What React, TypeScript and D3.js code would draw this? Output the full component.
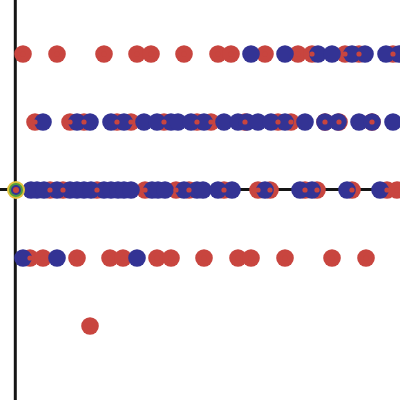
import React from "react";
import * as d3 from "d3";

const rows = ["r1", "r2", "r3", "r4", "r5"];

const redRow1 = [23, 57, 104, 137, 151, 184, 218, 231, 265, 298, 312, 345, 359, 393];
const blueRow1 = [251, 285, 318, 332, 352, 365, 386, 399];

const redRow2 = [35, 70, 84, 117, 131, 164, 197, 211, 245, 278, 291, 325, 339, 372];
const blueRow2 = [43, 77, 90, 111, 124, 144, 157, 171, 178, 191, 204, 224, 238, 247, 258, 271, 285, 305, 325, 338, 359, 372, 393];

const redRow3 = [50, 63, 97, 145, 176, 189, 224, 258, 270, 305, 317, 352, 387, 397];
const blueRow3 = [31, 37, 44, 57, 70, 77, 84, 91, 104, 111, 118, 124, 131, 152, 158, 165, 184, 197, 203, 218, 232, 265, 300, 312, 347, 380];

const redRow4 = [30, 43, 77, 110, 123, 157, 171, 204, 238, 251, 285, 332, 366];
const blueRow4 = [23, 57, 137];

const redRow5 = [90];
const blueRow5: number[] = [];

const redSeries = [redRow1, redRow2, redRow3, redRow4, redRow5];
const blueSeries = [blueRow1, blueRow2, blueRow3, blueRow4, blueRow5];

const highlight = { row: "r3", x: 16 };

const RED = "#c8453f";
const BLUE = "#333394";

export default function App() {
  const W = 400, H = 400;
  const x = d3.scaleLinear().domain([0, 400]).range([0, 400]);
  const y = d3.scalePoint<string>().domain(rows).range([54, 326]);
  const r = 8.8;

  const reds = redSeries.flatMap((vals, i) => vals.map((v) => ({ row: rows[i], v })));
  const blues = blueSeries.flatMap((vals, i) => vals.map((v) => ({ row: rows[i], v })));

  return (
    <svg width={W} height={H} style={{ position: "absolute", left: 0, top: 0, background: "#fff" }}>
      <line x1={0} x2={W} y1={189.5} y2={189.5} stroke="#151515" strokeWidth={3} />
      <line x1={15.3} x2={15.3} y1={0} y2={H} stroke="#151515" strokeWidth={3} />
      <g>
        {reds.map((d, i) => (
          <circle key={"r" + i} cx={x(d.v)} cy={y(d.row)!} r={r} fill={RED} />
        ))}
      </g>
      <g>
        {blues.map((d, i) => (
          <circle key={"b" + i} cx={x(d.v)} cy={y(d.row)!} r={r} fill={BLUE} />
        ))}
      </g>
      <g>
        {reds.map((d, i) => (
          <circle key={"rd" + i} cx={x(d.v)} cy={y(d.row)!} r={2.6} fill={RED} />
        ))}
      </g>
      <g>
        <circle cx={x(highlight.x)} cy={y(highlight.row)!} r={9} fill="#e2c23c" />
        <circle cx={x(highlight.x)} cy={y(highlight.row)!} r={7} fill="#4f9c3e" />
        <circle cx={x(highlight.x)} cy={y(highlight.row)!} r={5} fill={BLUE} />
        <circle cx={x(highlight.x)} cy={y(highlight.row)!} r={3} fill={RED} />
      </g>
    </svg>
  );
}
